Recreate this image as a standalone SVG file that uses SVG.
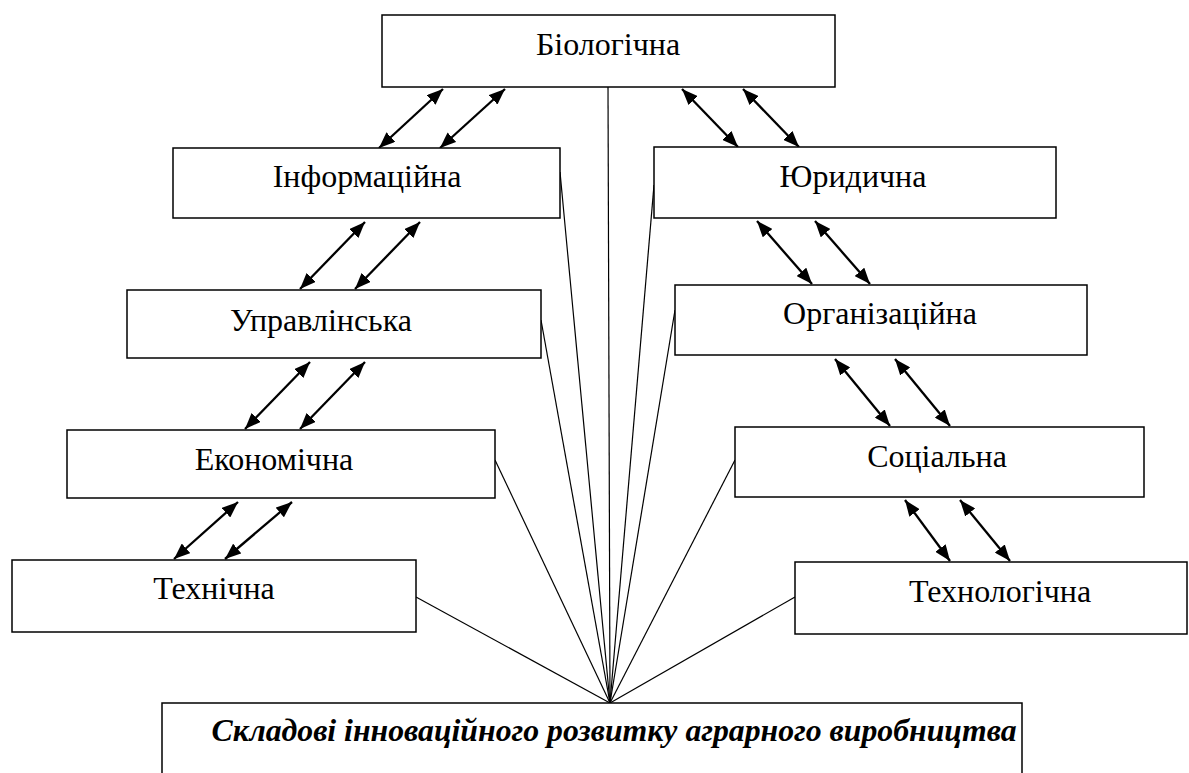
<svg xmlns="http://www.w3.org/2000/svg" width="1189" height="773" viewBox="0 0 1189 773">
<defs>
<marker id="ah" viewBox="0 0 10 8" refX="10" refY="4" markerWidth="7" markerHeight="5.6" orient="auto-start-reverse" markerUnits="strokeWidth">
<path d="M0,0 L10,4 L0,8 z" fill="#000"/>
</marker>
<style>
.box{fill:#fff;stroke:#000;stroke-width:1.5}
.lbl{font-family:"Liberation Serif","Times New Roman",serif;font-size:32px;fill:#000;text-anchor:middle}
.main{font-family:"Liberation Serif","Times New Roman",serif;font-size:32px;font-weight:bold;font-style:italic;fill:#000;text-anchor:middle}
.ln{stroke:#000;stroke-width:1.2;fill:none}
.ar{stroke:#000;stroke-width:2.3;fill:none;marker-start:url(#ah);marker-end:url(#ah)}
</style>
</defs>
<rect width="1189" height="773" fill="#fff"/>
<g id="connectors">
<line class="ln" x1="608" y1="87" x2="610" y2="703"/>
<line class="ln" x1="560" y1="172" x2="610" y2="703"/>
<line class="ln" x1="654" y1="185" x2="610" y2="703"/>
<line class="ln" x1="541" y1="320" x2="610" y2="703"/>
<line class="ln" x1="675" y1="310" x2="610" y2="703"/>
<line class="ln" x1="495" y1="460" x2="610" y2="703"/>
<line class="ln" x1="735" y1="460" x2="610" y2="703"/>
<line class="ln" x1="416" y1="597" x2="610" y2="703"/>
<line class="ln" x1="795" y1="597" x2="610" y2="703"/>
<line class="ar" x1="379" y1="148" x2="443" y2="89"/>
<line class="ar" x1="440" y1="148" x2="505" y2="89"/>
<line class="ar" x1="300" y1="289" x2="365" y2="222"/>
<line class="ar" x1="355" y1="289" x2="420" y2="222"/>
<line class="ar" x1="245" y1="429" x2="310" y2="362"/>
<line class="ar" x1="300" y1="429" x2="365" y2="362"/>
<line class="ar" x1="174" y1="559" x2="238" y2="502"/>
<line class="ar" x1="225" y1="559" x2="292" y2="502"/>
<line class="ar" x1="682" y1="89" x2="738" y2="147"/>
<line class="ar" x1="743" y1="89" x2="799" y2="147"/>
<line class="ar" x1="757" y1="221" x2="812" y2="284"/>
<line class="ar" x1="815" y1="221" x2="870" y2="284"/>
<line class="ar" x1="835" y1="359" x2="890" y2="426"/>
<line class="ar" x1="895" y1="359" x2="950" y2="426"/>
<line class="ar" x1="905" y1="500" x2="950" y2="561"/>
<line class="ar" x1="960" y1="500" x2="1010" y2="561"/>
</g>
<g id="bio"><rect class="box" x="382" y="15" width="453" height="72"/><text class="lbl" x="608" y="55">Біологічна</text></g>
<g id="info"><rect class="box" x="173" y="148" width="387" height="70"/><text class="lbl" x="367" y="187">Інформаційна</text></g>
<g id="jur"><rect class="box" x="654" y="147" width="402" height="71"/><text class="lbl" x="853" y="187">Юридична</text></g>
<g id="upr"><rect class="box" x="127" y="290" width="414" height="68"/><text class="lbl" x="321" y="331">Управлінська</text></g>
<g id="org"><rect class="box" x="675" y="285" width="412" height="70"/><text class="lbl" x="880" y="324">Організаційна</text></g>
<g id="econ"><rect class="box" x="67" y="430" width="428" height="68"/><text class="lbl" x="274" y="470">Економічна</text></g>
<g id="soc"><rect class="box" x="735" y="427" width="409" height="70"/><text class="lbl" x="937" y="467">Соціальна</text></g>
<g id="tech"><rect class="box" x="12" y="560" width="404" height="72"/><text class="lbl" x="214" y="599">Технічна</text></g>
<g id="technol"><rect class="box" x="795" y="562" width="392" height="72"/><text class="lbl" x="1000" y="602">Технологічна</text></g>
<g id="main"><rect class="box" x="162" y="703" width="860" height="90"/><text class="main" x="614" y="741" textLength="805" lengthAdjust="spacingAndGlyphs">Складові інноваційного розвитку аграрного виробництва</text></g>
</svg>
